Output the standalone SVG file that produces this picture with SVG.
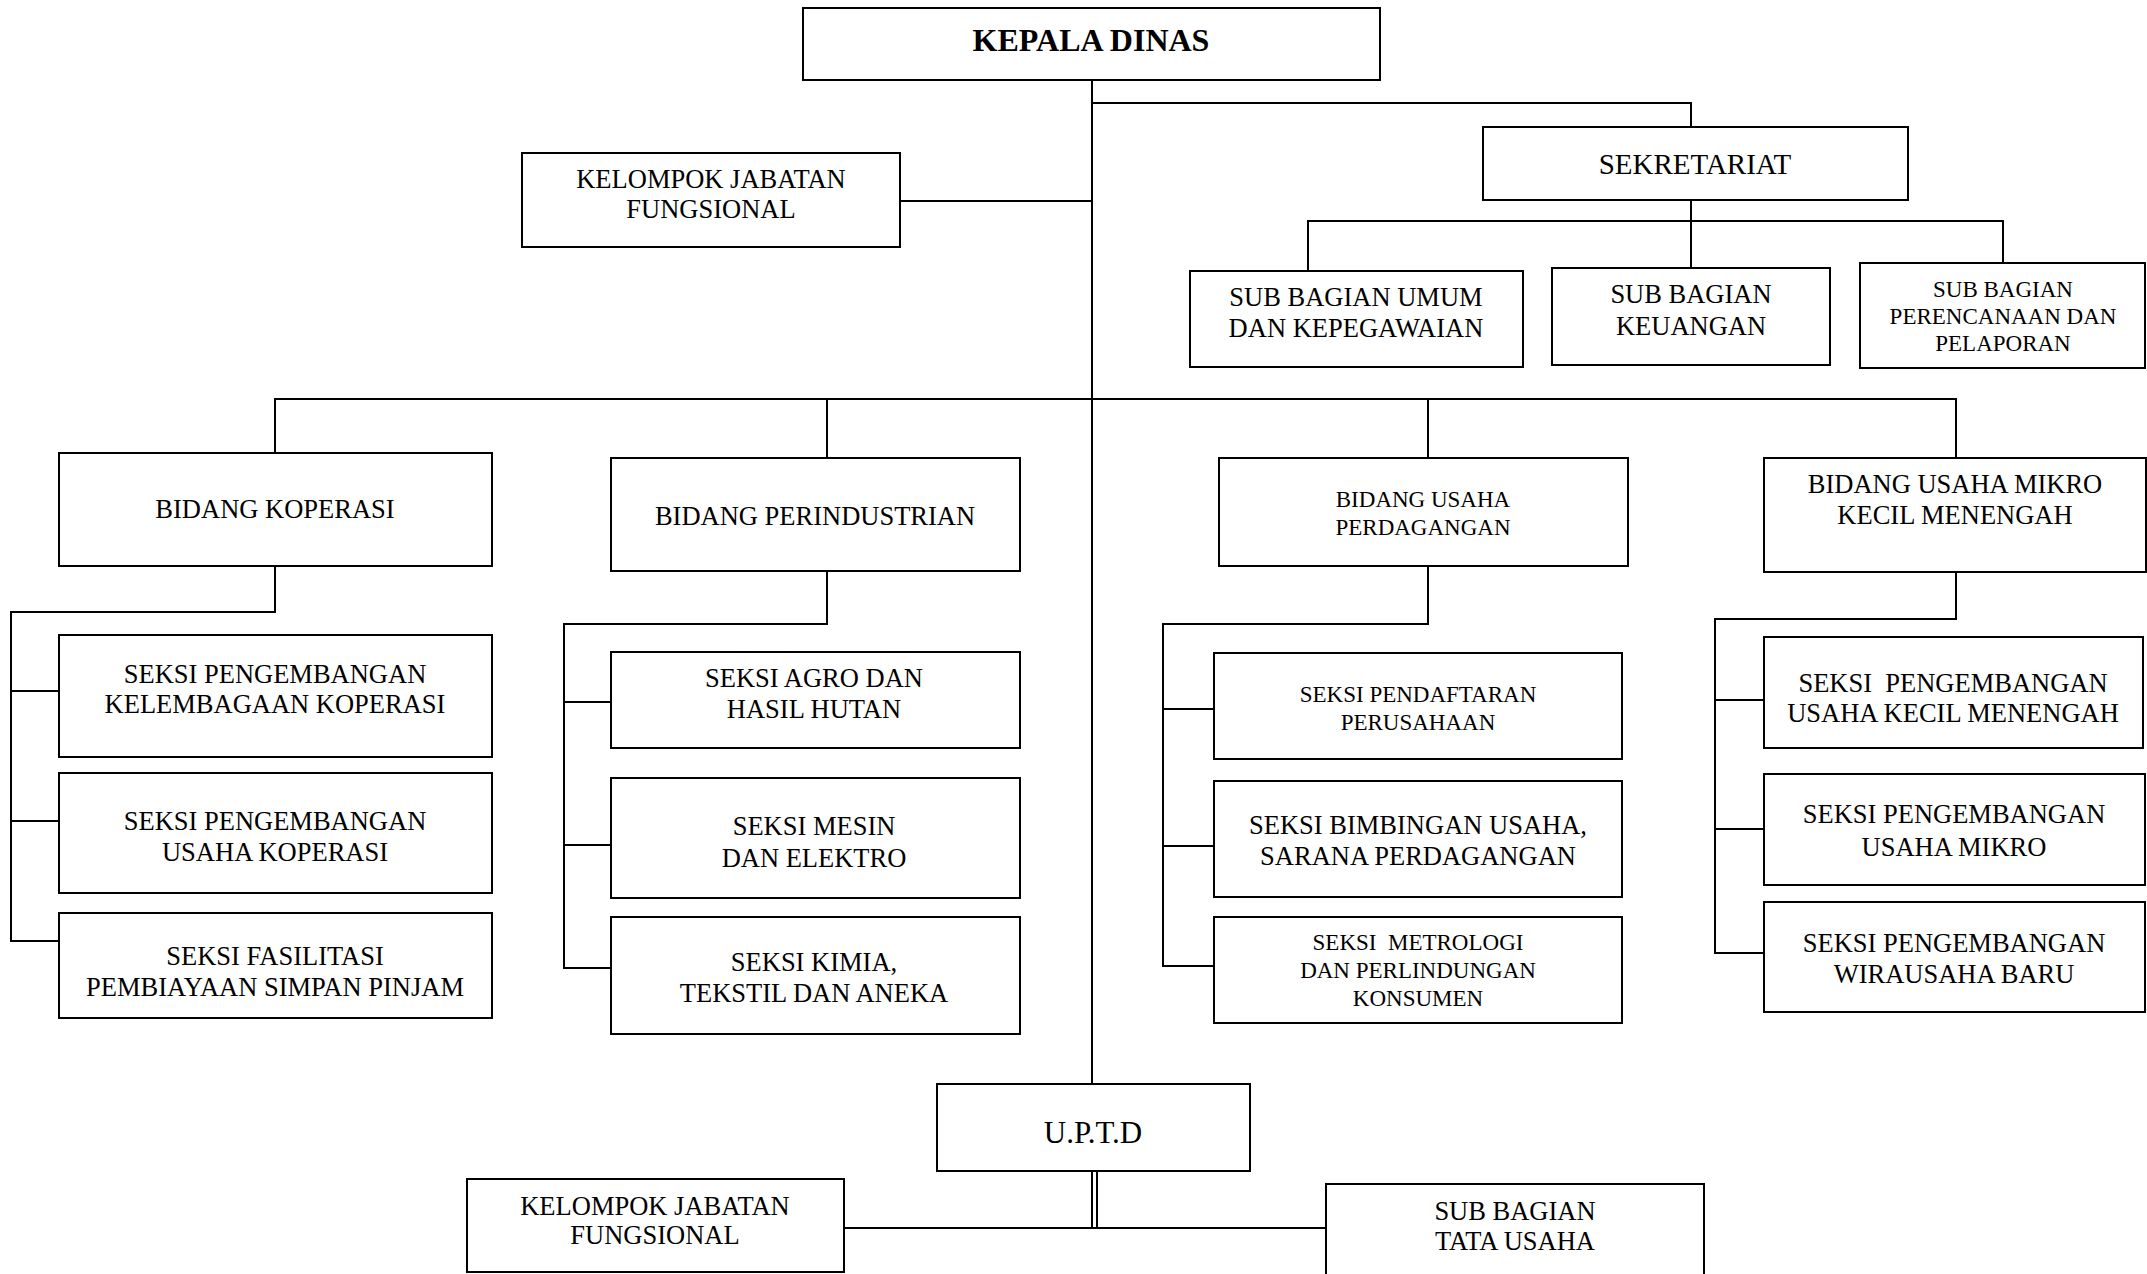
<svg xmlns="http://www.w3.org/2000/svg" width="2147" height="1274" viewBox="0 0 2147 1274">
  <style>
    .box { fill: #ffffff; stroke: #000000; stroke-width: 2; }
    .ln { fill: none; stroke: #000000; stroke-width: 2; }
    text { font-family: "Liberation Serif", "Times New Roman", serif; fill: #000000; text-anchor: middle; }
    .t { font-size: 26.5px; }
    .s { font-size: 23px; }
    .h { font-size: 29px; }
    .u { font-size: 31px; }
    .b { font-size: 32px; font-weight: bold; }
  </style>
  <rect width="2147" height="1274" fill="#ffffff"/>

  <!-- connectors -->
  <g id="connectors">
    <path class="ln" d="M1092 80 V1084"/>
    <path class="ln" d="M1092 103 H1691 V127"/>
    <path class="ln" d="M900 201 H1092"/>
    <path class="ln" d="M1691 200 V268"/>
    <path class="ln" d="M1308 271 V221 H2003 V263"/>
    <path class="ln" d="M275 453 V399 H1956 V458"/>
    <path class="ln" d="M827 399 V458"/>
    <path class="ln" d="M1428 399 V458"/>
    <!-- bidang koperasi -->
    <path class="ln" d="M275 566 V612 H11 V941 H59"/>
    <path class="ln" d="M11 691 H59 M11 821 H59"/>
    <!-- bidang perindustrian -->
    <path class="ln" d="M827 571 V624 H564 V968 H611"/>
    <path class="ln" d="M564 702 H611 M564 845 H611"/>
    <!-- bidang usaha perdagangan -->
    <path class="ln" d="M1428 566 V624 H1163 V966 H1214"/>
    <path class="ln" d="M1163 709 H1214 M1163 846 H1214"/>
    <!-- bidang usaha mikro kecil menengah -->
    <path class="ln" d="M1956 572 V619 H1715 V953 H1764"/>
    <path class="ln" d="M1715 700 H1764 M1715 829 H1764"/>
    <!-- u.p.t.d -->
    <path class="ln" d="M1092 1171 V1229 M1097 1171 V1229"/>
    <path class="ln" d="M844 1228 H1326"/>
  </g>

  <g id="kepala-dinas">
    <rect class="box" x="803" y="8" width="577" height="72"/>
    <text class="b" x="1091" y="51">KEPALA DINAS</text>
  </g>

  <g id="kelompok-jabatan-fungsional">
    <rect class="box" x="522" y="153" width="378" height="94"/>
    <text class="t" x="711" y="188">KELOMPOK JABATAN</text>
    <text class="t" x="711" y="218">FUNGSIONAL</text>
  </g>

  <g id="sekretariat">
    <rect class="box" x="1483" y="127" width="425" height="73"/>
    <text class="h" x="1695" y="174">SEKRETARIAT</text>
  </g>

  <g id="sub-bagian-umum">
    <rect class="box" x="1190" y="271" width="333" height="96"/>
    <text class="t" x="1356" y="306">SUB BAGIAN UMUM</text>
    <text class="t" x="1356" y="337">DAN KEPEGAWAIAN</text>
  </g>

  <g id="sub-bagian-keuangan">
    <rect class="box" x="1552" y="268" width="278" height="97"/>
    <text class="t" x="1691" y="303">SUB BAGIAN</text>
    <text class="t" x="1691" y="335">KEUANGAN</text>
  </g>

  <g id="sub-bagian-perencanaan">
    <rect class="box" x="1860" y="263" width="285" height="105"/>
    <text class="s" x="2003" y="297">SUB BAGIAN</text>
    <text class="s" x="2003" y="324">PERENCANAAN DAN</text>
    <text class="s" x="2003" y="351">PELAPORAN</text>
  </g>

  <g id="bidang-koperasi">
    <rect class="box" x="59" y="453" width="433" height="113"/>
    <text class="t" x="275" y="518">BIDANG KOPERASI</text>
  </g>

  <g id="bidang-perindustrian">
    <rect class="box" x="611" y="458" width="409" height="113"/>
    <text class="t" x="815" y="525">BIDANG PERINDUSTRIAN</text>
  </g>

  <g id="bidang-usaha-perdagangan">
    <rect class="box" x="1219" y="458" width="409" height="108"/>
    <text class="s" x="1423" y="507">BIDANG USAHA</text>
    <text class="s" x="1423" y="535">PERDAGANGAN</text>
  </g>

  <g id="bidang-usaha-mikro">
    <rect class="box" x="1764" y="458" width="382" height="114"/>
    <text class="t" x="1955" y="493">BIDANG USAHA MIKRO</text>
    <text class="t" x="1955" y="524">KECIL MENENGAH</text>
  </g>

  <g id="seksi-kelembagaan-koperasi">
    <rect class="box" x="59" y="635" width="433" height="122"/>
    <text class="t" x="275" y="683">SEKSI PENGEMBANGAN</text>
    <text class="t" x="275" y="713">KELEMBAGAAN KOPERASI</text>
  </g>

  <g id="seksi-usaha-koperasi">
    <rect class="box" x="59" y="773" width="433" height="120"/>
    <text class="t" x="275" y="830">SEKSI PENGEMBANGAN</text>
    <text class="t" x="275" y="861">USAHA KOPERASI</text>
  </g>

  <g id="seksi-fasilitasi">
    <rect class="box" x="59" y="913" width="433" height="105"/>
    <text class="t" x="275" y="965">SEKSI FASILITASI</text>
    <text class="t" x="275" y="996">PEMBIAYAAN SIMPAN PINJAM</text>
  </g>

  <g id="seksi-agro">
    <rect class="box" x="611" y="652" width="409" height="96"/>
    <text class="t" x="814" y="687">SEKSI AGRO DAN</text>
    <text class="t" x="814" y="718">HASIL HUTAN</text>
  </g>

  <g id="seksi-mesin">
    <rect class="box" x="611" y="778" width="409" height="120"/>
    <text class="t" x="814" y="835">SEKSI MESIN</text>
    <text class="t" x="814" y="867">DAN ELEKTRO</text>
  </g>

  <g id="seksi-kimia">
    <rect class="box" x="611" y="917" width="409" height="117"/>
    <text class="t" x="814" y="971">SEKSI KIMIA,</text>
    <text class="t" x="814" y="1002">TEKSTIL DAN ANEKA</text>
  </g>

  <g id="seksi-pendaftaran">
    <rect class="box" x="1214" y="653" width="408" height="106"/>
    <text class="s" x="1418" y="702">SEKSI PENDAFTARAN</text>
    <text class="s" x="1418" y="730">PERUSAHAAN</text>
  </g>

  <g id="seksi-bimbingan">
    <rect class="box" x="1214" y="781" width="408" height="116"/>
    <text class="t" x="1418" y="834">SEKSI BIMBINGAN USAHA,</text>
    <text class="t" x="1418" y="865">SARANA PERDAGANGAN</text>
  </g>

  <g id="seksi-metrologi">
    <rect class="box" x="1214" y="917" width="408" height="106"/>
    <text class="s" x="1418" y="950" xml:space="preserve">SEKSI  METROLOGI</text>
    <text class="s" x="1418" y="978">DAN PERLINDUNGAN</text>
    <text class="s" x="1418" y="1006">KONSUMEN</text>
  </g>

  <g id="seksi-usaha-kecil">
    <rect class="box" x="1764" y="637" width="379" height="111"/>
    <text class="t" x="1953" y="692" xml:space="preserve">SEKSI  PENGEMBANGAN</text>
    <text class="t" x="1953" y="722">USAHA KECIL MENENGAH</text>
  </g>

  <g id="seksi-usaha-mikro">
    <rect class="box" x="1764" y="774" width="381" height="111"/>
    <text class="t" x="1954" y="823">SEKSI PENGEMBANGAN</text>
    <text class="t" x="1954" y="856">USAHA MIKRO</text>
  </g>

  <g id="seksi-wirausaha">
    <rect class="box" x="1764" y="902" width="381" height="110"/>
    <text class="t" x="1954" y="952">SEKSI PENGEMBANGAN</text>
    <text class="t" x="1954" y="983">WIRAUSAHA BARU</text>
  </g>

  <g id="uptd">
    <rect class="box" x="937" y="1084" width="313" height="87"/>
    <text class="u" x="1093" y="1143">U.P.T.D</text>
  </g>

  <g id="uptd-kelompok-jabatan">
    <rect class="box" x="467" y="1179" width="377" height="93"/>
    <text class="t" x="655" y="1215">KELOMPOK JABATAN</text>
    <text class="t" x="655" y="1244">FUNGSIONAL</text>
  </g>

  <g id="uptd-tata-usaha">
    <rect class="box" x="1326" y="1184" width="378" height="100"/>
    <text class="t" x="1515" y="1220">SUB BAGIAN</text>
    <text class="t" x="1515" y="1250">TATA USAHA</text>
  </g>
</svg>
